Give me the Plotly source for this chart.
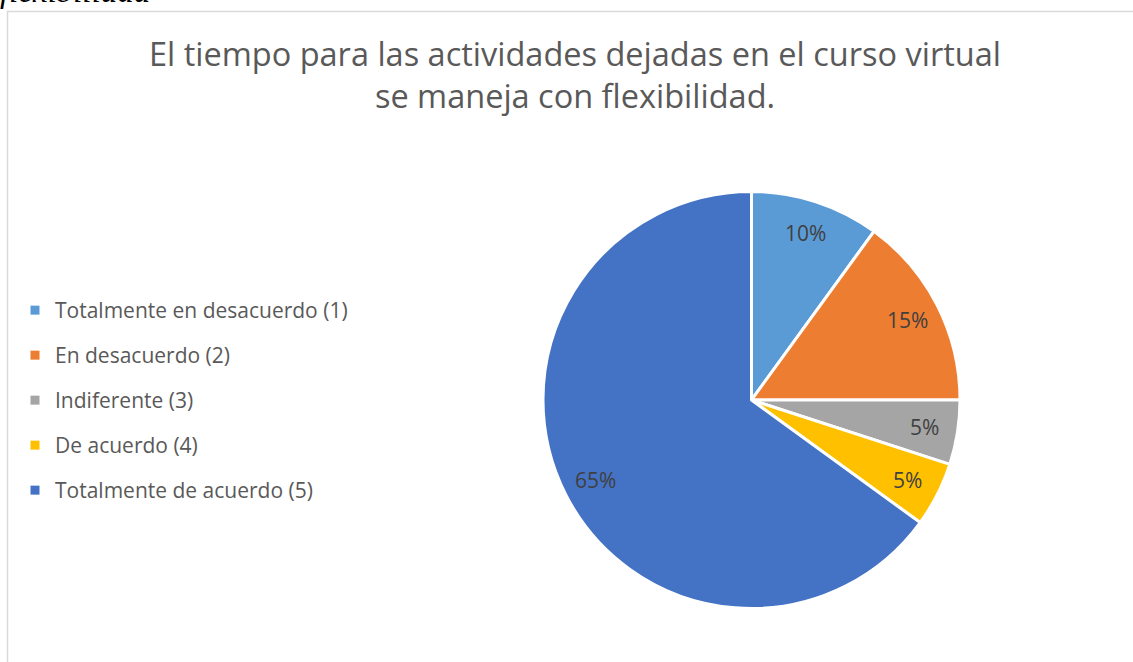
import math
import plotly.graph_objects as go

# ---- data ----
categories = [
    "Totalmente en desacuerdo (1)",
    "En desacuerdo (2)",
    "Indiferente (3)",
    "De acuerdo (4)",
    "Totalmente de acuerdo (5)",
]
percent_values = [10, 15, 5, 5, 65]
slice_colors = ["#5B9BD5", "#ED7D31", "#A5A5A5", "#FFC000", "#4472C4"]
title_text = "El tiempo para las actividades dejadas en el curso virtual<br>se maneja con flexibilidad."
caption_text = "flexibilidad"

W, H = 1133, 662
cx_px, cy_px, r_px = 751.5, 400.0, 208.5

dom_x = [(cx_px - r_px) / W, (cx_px + r_px) / W]
dom_y = [(H - cy_px - r_px) / H, (H - cy_px + r_px) / H]

fig = go.Figure()
fig.add_trace(go.Pie(
    labels=categories,
    values=percent_values,
    sort=False,
    direction="clockwise",
    marker=dict(colors=slice_colors, line=dict(color="white", width=3)),
    textinfo="none",
    hoverinfo="label+percent",
    showlegend=False,
    domain=dict(x=dom_x, y=dom_y),
))

# legend entries (one per category, own group for spacing)
for i, (cat, col) in enumerate(zip(categories, slice_colors)):
    fig.add_trace(go.Scatter(
        x=[None], y=[None], mode="markers", name=cat,
        marker=dict(symbol="square", size=9, color=col),
        legendgroup=f"g{i}", showlegend=True,
    ))

# percentage labels placed along slice mid-angles
total = sum(percent_values)
annotations = []
cum = 0.0
label_r = 0.84
for v in percent_values:
    mid = (cum + v / 2) / total * 2 * math.pi
    cum += v
    px = cx_px + label_r * r_px * math.sin(mid)
    py = cy_px - label_r * r_px * math.cos(mid)
    annotations.append(dict(
        x=px / W, y=1 - py / H, xref="paper", yref="paper",
        text=f"{v}%", showarrow=False,
        font=dict(family="Open Sans", size=21, color="#404040"),
        xanchor="center", yanchor="middle",
    ))

annotations.append(dict(
    x=0, y=1, xref="paper", yref="paper", text=f"<i>{caption_text}</i>",
    showarrow=False, xanchor="left", yanchor="bottom", yshift=-11, xshift=-2,
    font=dict(family="Liberation Serif", size=33, color="#000000"),
))

fig.update_layout(
    width=W, height=H,
    margin=dict(l=0, r=0, t=0, b=0),
    paper_bgcolor="white", plot_bgcolor="white",
    title=dict(
        text=title_text, x=575 / W, xanchor="center", y=1 - 66 / H, yanchor="middle",
        font=dict(family="Open Sans", size=32.5, color="#595959"),
    ),
    xaxis=dict(visible=False), yaxis=dict(visible=False),
    showlegend=True,
    legend=dict(
        x=15 / W, y=1 - 290 / H, xanchor="left", yanchor="top",
        font=dict(family="Open Sans", size=21, color="#595959"),
        tracegroupgap=14.7, itemwidth=30, bgcolor="rgba(0,0,0,0)",
    ),
    annotations=annotations,
    shapes=[dict(
        type="rect", xref="paper", yref="paper",
        x0=7.5 / W, x1=1.05, y0=-0.05, y1=1 - 11.5 / H,
        line=dict(color="#D9D9D9", width=1.5), fillcolor="rgba(0,0,0,0)",
        layer="below",
    )],
)

fig.write_html(
    "out.html",
    config={"displayModeBar": False},
    post_script="document.body.style.margin='0';document.body.style.overflow='hidden';",
)
